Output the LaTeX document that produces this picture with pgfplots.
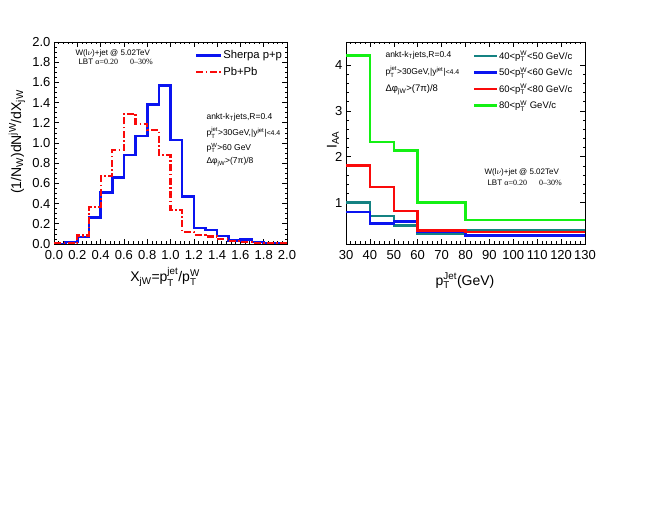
\documentclass[border=0pt]{standalone}
\usepackage{pgfplots}
\pgfplotsset{compat=1.18}
\usepackage{amsmath}
\usepackage{fontspec}
\setmainfont{Liberation Sans}
\newfontfamily\seriffont{Liberation Serif}
\definecolor{myblue}{RGB}{10,20,240}
\definecolor{myred}{RGB}{250,10,10}
\definecolor{myteal}{RGB}{20,130,130}
\definecolor{mygreen}{RGB}{20,240,20}
\begin{document}
\begin{tikzpicture}
\path[use as bounding box] (0pt,0pt) rectangle (664pt,510pt);
\pgfplotsset{
  common/.style={
    scale only axis,
    height=202pt,
    anchor=south west,
    /pgf/number format/assume math mode=true,
    tick label style={font=\fontsize{13}{13}\selectfont},
    xticklabel style={yshift=-3pt},
    tick align=inside,
    major tick length=5pt,
    minor tick length=2.5pt,
    every tick/.style={black, line width=0.6pt},
    axis line style={line width=0.8pt},
    legend cell align=left,
  }
}
% ---------------- left panel ----------------
\begin{axis}[common,
  at={(54pt,266pt)}, width=233pt,
  xmin=0, xmax=2, ymin=0, ymax=2,
  xtick={0,0.2,...,2.01}, ytick={0,0.2,...,2.01},
  minor x tick num=4, minor y tick num=3,
  xticklabel style={/pgf/number format/.cd,fixed,fixed zerofill,precision=1},
  yticklabel style={/pgf/number format/.cd,fixed,fixed zerofill,precision=1},
  legend image code/.code={\draw[#1] (0pt,0pt) -- (25pt,0pt);},
  legend style={at={(0.605,0.962)}, anchor=north west, draw=none, fill=none,
    font=\fontsize{11.3}{11.3}\selectfont, inner sep=0pt, row sep=6pt,
    nodes={inner sep=0.5pt},
    /tikz/every even column/.append style={column sep=0pt}},
]
\addplot[const plot, color=myblue, line width=2.6pt] coordinates {
(0.0,0.0)(0.1,0.02)(0.2,0.07)(0.3,0.26)(0.4,0.51)(0.5,0.66)(0.6,0.88)(0.7,1.07)
(0.8,1.38)(0.9,1.57)(1.0,1.03)(1.1,0.47)(1.2,0.16)(1.3,0.14)(1.4,0.08)(1.5,0.035)
(1.6,0.045)(1.7,0.02)(1.8,0.01)(1.9,0.01)(2.0,0.01)};
\addlegendentry{Sherpa p+p}
\addplot[const plot, color=myred, line width=2.2pt, dash pattern=on 7pt off 2.5pt on 1.5pt off 2.5pt] coordinates {
(0.0,0.005)(0.1,0.005)(0.2,0.085)(0.3,0.37)(0.4,0.67)(0.5,0.93)(0.6,1.29)(0.7,1.19)
(0.8,1.13)(0.9,0.88)(1.0,0.34)(1.1,0.12)(1.2,0.09)(1.3,0.075)(1.4,0.05)(1.5,0.03)
(1.6,0.02)(1.7,0.01)(1.8,0.01)(1.9,0.005)(2.0,0.005)};
\addlegendentry{Pb+Pb}
\end{axis}
% ---------------- right panel ----------------
\begin{axis}[common,
  at={(346pt,266pt)}, width=239pt,
  xmin=30, xmax=130, ymin=0.1, ymax=4.5,
  xtick={30,40,...,130}, ytick={1,2,3,4},
  minor x tick num=4, minor y tick num=4,
  legend image code/.code={\draw[#1] (0pt,0pt) -- (23pt,0pt);},
  legend style={at={(0.531,0.958)}, anchor=north west, draw=none, fill=none,
    font=\fontsize{9.5}{9.5}\selectfont, inner sep=0pt, row sep=6pt,
    nodes={inner sep=0.3pt},
    /tikz/every even column/.append style={column sep=0pt}},
]
\addplot[const plot, color=myteal, line width=2.6pt] coordinates {
(30,1.0)(40,0.71)(50,0.5)(60,0.32)(80,0.39)(130,0.39)};
\addlegendentry{40<p$_{\text{T}}^{\text{W}}$<50 GeV/c}
\addplot[const plot, color=myblue, line width=2.6pt] coordinates {
(30,0.80)(40,0.55)(50,0.59)(60,0.36)(80,0.29)(130,0.29)};
\addlegendentry{50<p$_{\text{T}}^{\text{W}}$<60 GeV/c}
\addplot[const plot, color=myred, line width=2.6pt] coordinates {
(30,1.81)(40,1.34)(50,0.82)(60,0.40)(80,0.36)(130,0.36)};
\addlegendentry{60<p$_{\text{T}}^{\text{W}}$<80 GeV/c}
\addplot[const plot, color=mygreen, line width=2.6pt] coordinates {
(30,4.21)(40,2.32)(50,2.14)(60,1.0)(80,0.62)(130,0.62)};
\addlegendentry{80<p$_{\text{T}}^{\text{W}}$ GeV/c}
\end{axis}
% ---------------- labels ----------------
\begin{scope}[x=1pt,y=1pt]
\node[rotate=90, font=\fontsize{14}{14}\selectfont] at (17,368)
  {(1/N$_{\text{W}}$)dN$^{\text{jW}}$/dX$_{\text{jW}}$};
\node[font=\fontsize{14}{14}\selectfont] at (165,233)
  {X$_{\text{jW}}$=p$_{\text{T}}^{\text{jet}}$/p$_{\text{T}}^{\text{W}}$};
\node[rotate=90, font=\fontsize{14}{14}\selectfont] at (333,370) {I$_{\text{AA}}$};
\node[font=\fontsize{14}{14}\selectfont] at (465,229)
  {p$_{\text{T}}^{\text{Jet}}$(GeV)};
% left annotations
\node[anchor=west, font=\fontsize{8}{8}\selectfont] at (72,457) {W(l$\nu$)+jet @ 5.02TeV};
\node[anchor=west, font=\fontsize{8}{8}\selectfont] at (75,448) {LBT {\seriffont α=0.20\hspace{12pt}0–30\%}};
\node[anchor=west, font=\fontsize{8.5}{8.5}\selectfont] at (203,393) {ankt-k$_{\text{T}}$jets,R=0.4};
\node[anchor=west, font=\fontsize{8.5}{8.5}\selectfont] at (203,377) {p$_{\text{T}}^{\text{jet}}$>30GeV,|y$^{\text{jet}}$|{\fontsize{7}{7}\selectfont<4.4}};
\node[anchor=west, font=\fontsize{8.5}{8.5}\selectfont] at (203,362) {p$_{\text{T}}^{\text{W}}$>60 GeV};
\node[anchor=west, font=\fontsize{8.5}{8.5}\selectfont] at (203,348) {Δφ$_{\text{jW}}$>(7π)/8};
% right annotations
\node[anchor=west, font=\fontsize{8.5}{8.5}\selectfont] at (382,455) {ankt-k$_{\text{T}}$jets,R=0.4};
\node[anchor=west, font=\fontsize{8.5}{8.5}\selectfont] at (382,438) {p$_{\text{T}}^{\text{jet}}$>30GeV,|y$^{\text{jet}}$|{\fontsize{7}{7}\selectfont<4.4}};
\node[anchor=west, font=\fontsize{9.5}{9.5}\selectfont] at (382,420) {Δφ$_{\text{jW}}$>(7π)/8};
\node[anchor=west, font=\fontsize{8}{8}\selectfont] at (481,338) {W(l$\nu$)+jet @ 5.02TeV};
\node[anchor=west, font=\fontsize{8}{8}\selectfont] at (484,327) {LBT {\seriffont α=0.20\hspace{12pt}0–30\%}};
\end{scope}
\end{tikzpicture}
\end{document}
